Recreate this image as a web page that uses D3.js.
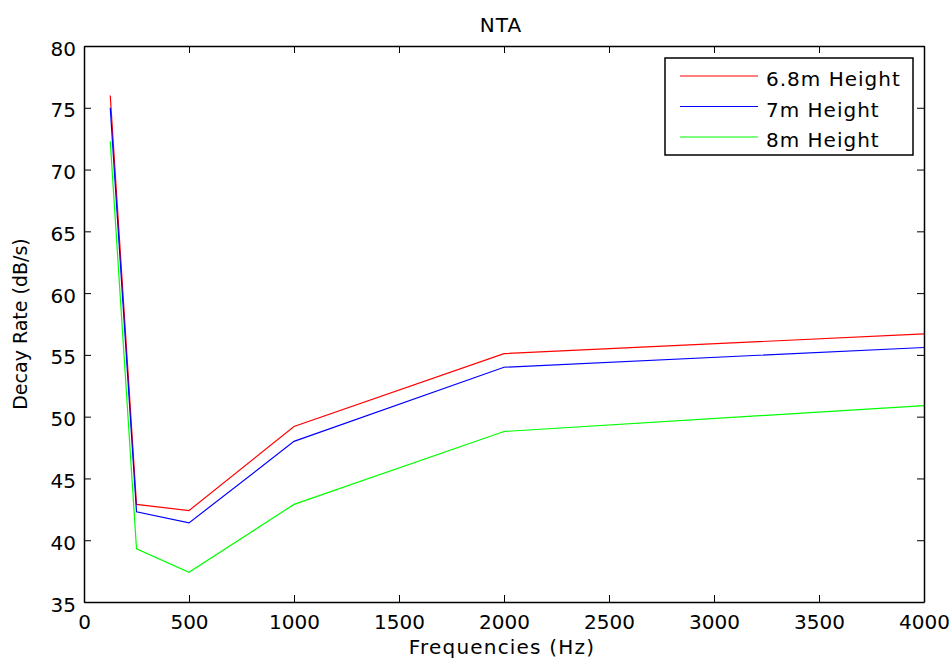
<!DOCTYPE html>
<html>
<head>
  <title>NTA</title>
  <script type="text/javascript" src="https://d3js.org/d3.v7.min.js"></script>
  <style>
    body { margin: 0; background: #fff; }
    text { font-family: "DejaVu Sans", sans-serif; fill: #000; }
  </style>
</head>
<body>
  <div id="container"></div>
  <script type="text/javascript">
    var freqs = [125, 250, 500, 1000, 2000, 4000];
    var red68 = [76.0, 42.9, 42.4, 49.2, 55.1, 56.7];
    var blue7 = [75.0, 42.3, 41.4, 48.0, 54.0, 55.6];
    var green8 = [72.3, 39.3, 37.4, 42.9, 48.8, 50.9];
    var seriesNames = ['6.8m Height', '7m Height', '8m Height'];
    var seriesColours = ['#ff0000', '#0000ff', '#00ff00'];
    var xTicks = [0, 500, 1000, 1500, 2000, 2500, 3000, 3500, 4000];
    var yTicks = [35, 40, 45, 50, 55, 60, 65, 70, 75, 80];

    var allSeries = [red68, blue7, green8];

    function drawGraph() {
      var W = 952, H = 659;
      var margin = {top: 46, right: 28, bottom: 57, left: 84};
      var width = W - margin.left - margin.right,
        height = H - margin.top - margin.bottom;

      var svg = d3.select('#container').append('svg')
        .attr('width', W).attr('height', H);

      var gp = svg.append('g').attr('transform', `translate(${margin.left},${margin.top})`);

      var x = d3.scaleLinear().domain([0, 4000]).range([0, width]);
      var y = d3.scaleLinear().domain([35, 80]).range([height, 0]);

      // lines
      var line = d3.line().x((d, i) => x(freqs[i])).y(d => y(d));
      gp.selectAll('path.series').data(allSeries).enter()
        .append('path')
        .attr('class', 'series')
        .attr('d', d => line(d))
        .attr('fill', 'none')
        .attr('stroke', (d, i) => seriesColours[i])
        .attr('stroke-width', 1.2);

      // axes, ticks inside like matlab
      var tl = 7, fmt = d3.format('d');
      var bottom = gp.append('g').attr('transform', `translate(0,${height})`)
        .call(d3.axisBottom(x).tickValues(xTicks).tickFormat(fmt).tickSize(-tl).tickPadding(13).tickSizeOuter(0));
      var top = gp.append('g')
        .call(d3.axisTop(x).tickValues(xTicks).tickSize(-tl).tickFormat('').tickSizeOuter(0));
      var left = gp.append('g')
        .call(d3.axisLeft(y).tickValues(yTicks).tickFormat(fmt).tickSize(-tl).tickPadding(8).tickSizeOuter(0));
      var right = gp.append('g').attr('transform', `translate(${width},0)`)
        .call(d3.axisRight(y).tickValues(yTicks).tickSize(-tl).tickFormat('').tickSizeOuter(0));

      [bottom, top, left, right].forEach(function (a) {
        a.select('.domain').attr('stroke', '#000').attr('stroke-width', 1.5);
        a.selectAll('.tick line').attr('stroke', '#000').attr('stroke-width', 1);
        a.selectAll('.tick text').style('font-size', '20px')
          .style('font-family', '"DejaVu Sans", sans-serif').attr('fill', '#000');
      });
      left.selectAll('.tick text').attr('dy', '0.45em');

      // title and labels
      svg.append('text').attr('x', 501).attr('y', 32)
        .attr('text-anchor', 'middle').style('font-size', '20px')
        .style('letter-spacing', '1px').text('NTA');
      svg.append('text').attr('x', 502).attr('y', 654)
        .attr('text-anchor', 'middle').style('font-size', '20px')
        .style('letter-spacing', '1.2px').text('Frequencies (Hz)');
      svg.append('text')
        .attr('transform', `translate(27,${margin.top + height / 2}) rotate(-90)`)
        .attr('text-anchor', 'middle').style('font-size', '19px').text('Decay Rate (dB/s)');

      // legend
      var lg = svg.append('g').attr('transform', 'translate(665,58)');
      lg.append('rect').attr('width', 248).attr('height', 97)
        .attr('fill', '#fff').attr('stroke', '#000').attr('stroke-width', 1.5);
      var rows = lg.selectAll('g.row').data(seriesNames).enter()
        .append('g').attr('class', 'row')
        .attr('transform', (d, i) => `translate(0,${18 + i * 30.5})`);
      rows.append('line').attr('x1', 15).attr('x2', 93)
        .attr('stroke', (d, i) => seriesColours[i]).attr('stroke-width', 1.2);
      rows.append('text').attr('x', 101).attr('y', 10)
        .style('font-size', '20px').style('letter-spacing', '1px').text(d => d);
    }

    drawGraph();
  </script>
</body>
</html>
